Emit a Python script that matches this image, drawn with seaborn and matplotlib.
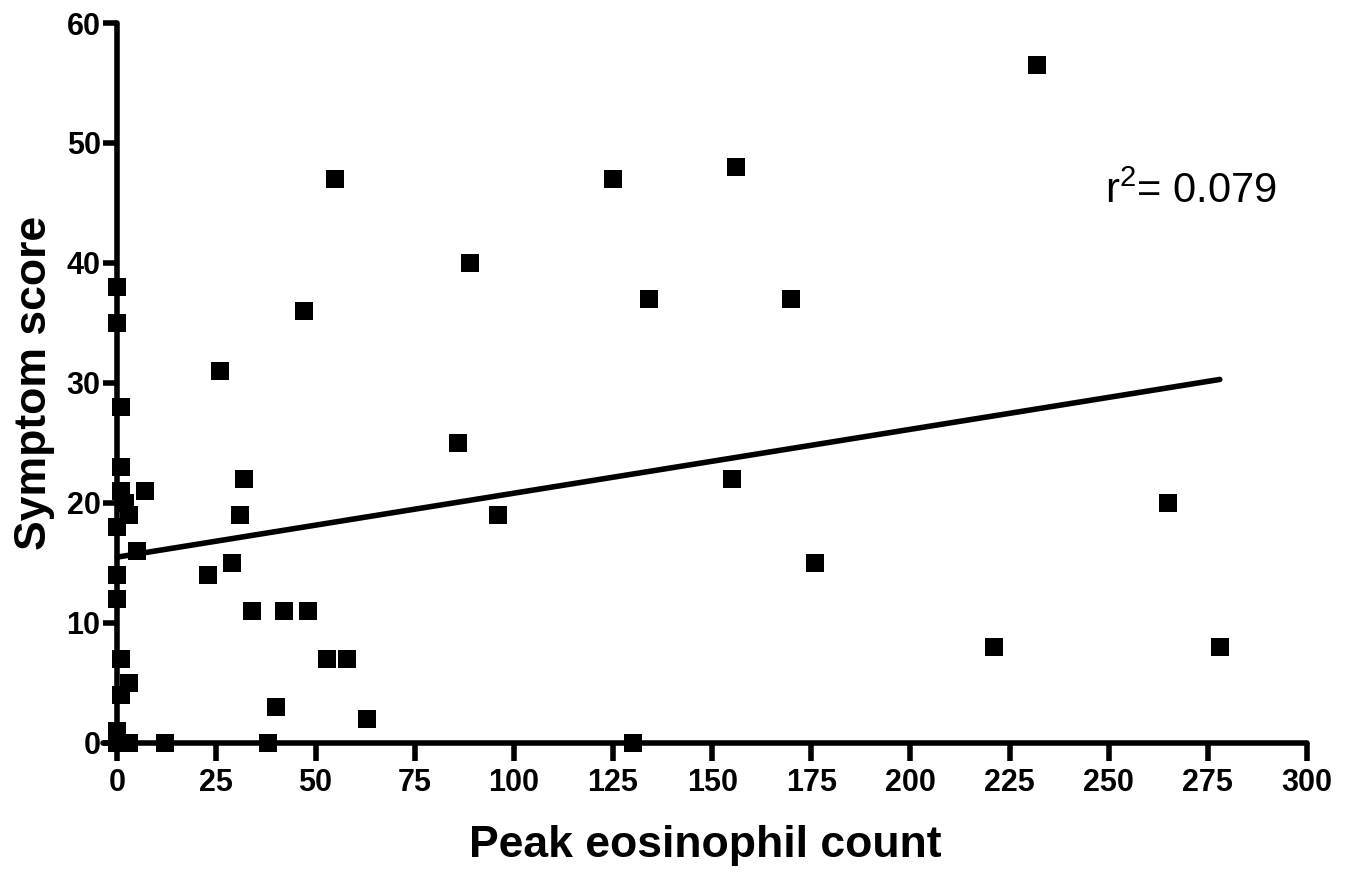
import numpy as np
import pandas as pd
import matplotlib
matplotlib.use("Agg")
import matplotlib.pyplot as plt
import seaborn as sns

# Peak eosinophil count vs symptom score
eos_count = [0, 0, 1, 1, 7, 1, 2, 3, 0, 5, 0, 0, 1, 3, 1, 0, 0, 3, 12,
             26, 32, 31, 29, 23, 34, 42, 48, 53, 58, 40, 63, 38,
             55, 89, 47, 86, 96, 125, 156, 134, 170, 155, 176, 130,
             232, 265, 221, 278]
symptom = [38, 35, 28, 23, 21, 21, 20, 19, 18, 16, 14, 12, 7, 5, 4, 1, 0, 0, 0,
           31, 22, 19, 15, 14, 11, 11, 11, 7, 7, 3, 2, 0,
           47, 40, 36, 25, 19, 47, 48, 37, 37, 22, 15, 0,
           56.5, 20, 8, 8]
x_ticks = [0, 25, 50, 75, 100, 125, 150, 175, 200, 225, 250, 275, 300]
y_ticks = [0, 10, 20, 30, 40, 50, 60]
r2_label = r"r$^{\mathregular{2}}$= 0.079"

df = pd.DataFrame({"eos": eos_count, "score": symptom})

sns.set_theme(style="ticks")
plt.rcParams.update({
    "font.family": ["Liberation Sans", "DejaVu Sans"],
    "mathtext.fontset": "custom",
    "mathtext.rm": "Liberation Sans",
    "text.color": "black",
    "axes.labelcolor": "black",
    "axes.edgecolor": "black",
    "xtick.color": "black",
    "ytick.color": "black",
    "axes.linewidth": 4,
    "xtick.major.width": 4,
    "ytick.major.width": 4,
    "xtick.major.size": 13,
    "ytick.major.size": 10,
})

fig = plt.figure(figsize=(13.57, 8.72), dpi=100)
ax = fig.add_axes([0.0759, 0.1485, 0.8873, 0.8251])

sns.regplot(data=df, x="eos", y="score", scatter=False, ci=None, truncate=True,
            color="black", line_kws={"lw": 4, "solid_capstyle": "round"}, ax=ax)
sns.scatterplot(data=df, x="eos", y="score", marker="s", s=150, color="black",
                linewidth=0, clip_on=False, zorder=5, ax=ax)

ax.set_xlim(-3.6, 300)
ax.set_ylim(0, 60)
ax.spines["left"].set_position(("data", 0))
ax.spines["top"].set_visible(False)
ax.spines["right"].set_visible(False)
for side in ["left", "bottom"]:
    ax.spines[side].set_capstyle("round")
ax.set_xticks(x_ticks)
ax.set_yticks(y_ticks)
ax.tick_params(axis="both", labelsize=22, colors="black")
ax.tick_params(axis="x", pad=5)
ax.tick_params(axis="y", pad=2)
for lbl in ax.get_xticklabels() + ax.get_yticklabels():
    lbl.set_fontweight("bold")

ax.set_xlabel("Peak eosinophil count", fontsize=32, fontweight="bold", labelpad=20)
ax.set_ylabel("Symptom score", fontsize=32, fontweight="bold", labelpad=8)

ax.text(249, 45, r2_label, fontsize=30, va="baseline", ha="left", color="black")

fig.savefig("out.png", dpi=100)
